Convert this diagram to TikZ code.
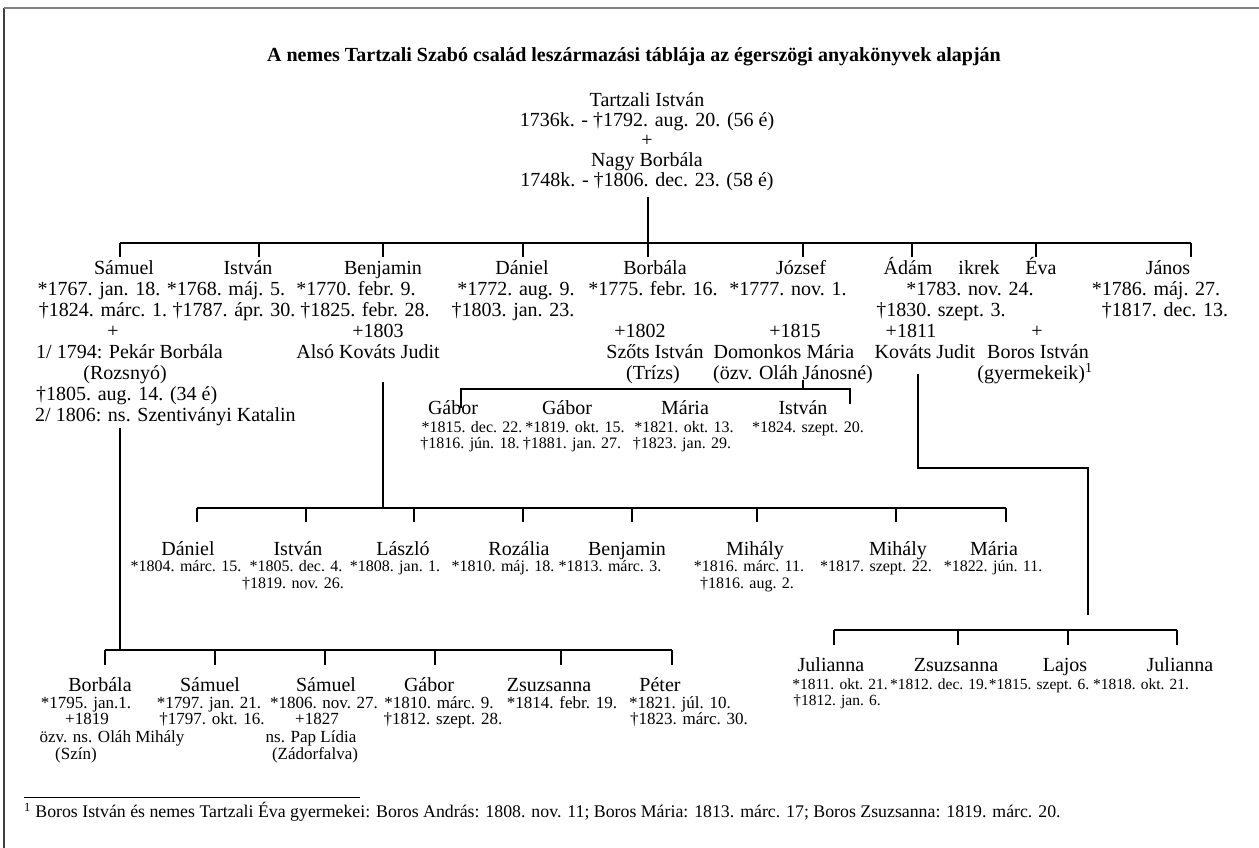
\documentclass[tikz,border=0pt]{standalone}
\usepackage{fontspec}
\setmainfont{Liberation Serif}
\begin{document}
\begin{tikzpicture}[x=1pt,y=-1pt,
  big/.style={font=\fontsize{20}{24}\selectfont, inner sep=0pt, anchor=base},
  bigw/.style={big, anchor=base west},
  sml/.style={font=\fontsize{16}{19}\selectfont, inner sep=0pt, anchor=base},
  smlb/.style={font=\fontsize{17}{20}\selectfont, inner sep=0pt, anchor=base},
  smlc/.style={font=\fontsize{15.5}{18}\selectfont, inner sep=0pt, anchor=base},
  ttl/.style={font=\fontsize{20}{24}\selectfont\bfseries, inner sep=0pt, anchor=base},
  fn/.style={font=\fontsize{17.8}{20}\selectfont, inner sep=0pt, anchor=base west},
  ln/.style={line width=1.1pt, draw=black},
]
\useasboundingbox (0,0) rectangle (1259,848);
% frame
\coordinate (fA) at (4,848);
\coordinate (fB) at (4,8);
\coordinate (fC) at (1259,8);
\draw[line width=1.6pt, draw=black!75] (fA) -- (fB);
\draw[line width=1.8pt, draw=black!50] (fB) -- (fC);

% title
\node[ttl] (title) at (634,61.6) {A nemes Tartzali Szabó család leszármazási táblája az égerszögi anyakönyvek alapján};

% root couple
\node[big] (root1) at (647,106.6) {Tartzali István};
\node[big] (root2) at (647,126.6) {1736k. - †1792. aug. 20. (56 é)};
\node[big] (root3) at (647,146.6) {+};
\node[big] (root4) at (647,166.6) {Nagy Borbála};
\node[big] (root5) at (647,186.6) {1748k. - †1806. dec. 23. (58 é)};

% generation 1
\def\Ra{274.6}\def\Rb{295.6}\def\Rc{316.6}\def\Rd{337.6}
\def\Re{358.6}\def\Rf{379.6}\def\Rg{400.6}\def\Rh{421.6}
\node[big] (sam1) at (124,\Ra) {Sámuel};
\node[big] (sam2) at (99,\Rb) {*1767. jan. 18.};
\node[big] (sam3) at (103,\Rc) {†1824. márc. 1.};
\node[big] (sam4) at (113,\Rd) {+};
\node[bigw] (sam5) at (36,\Re) {1/ 1794: Pekár Borbála};
\node[big] (sam6) at (125,\Rf) {(Rozsnyó)};
\node[bigw] (sam7) at (36,\Rg) {†1805. aug. 14. (34 é)};
\node[bigw] (sam8) at (35,\Rh) {2/ 1806: ns. Szentiványi Katalin};

\node[big] (ist1) at (248,\Ra) {István};
\node[big] (ist2) at (226,\Rb) {*1768. máj. 5.};
\node[big] (ist3) at (234,\Rc) {†1787. ápr. 30.};

\node[big] (ben1) at (383,\Ra) {Benjamin};
\node[big] (ben2) at (356,\Rb) {*1770. febr. 9.};
\node[big] (ben3) at (365,\Rc) {†1825. febr. 28.};
\node[big] (ben4) at (378,\Rd) {+1803};
\node[big] (ben5) at (368,\Re) {Alsó Kováts Judit};

\node[big] (dan1) at (522,\Ra) {Dániel};
\node[big] (dan2) at (516,\Rb) {*1772. aug. 9.};
\node[big] (dan3) at (513,\Rc) {†1803. jan. 23.};

\node[big] (bor1) at (655,\Ra) {Borbála};
\node[big] (bor2) at (653,\Rb) {*1775. febr. 16.};
\node[big] (bor4) at (640,\Rd) {+1802};
\node[big] (bor5) at (655,\Re) {Szőts István};
\node[big] (bor6) at (653,\Rf) {(Trízs)};

\node[big] (jo1) at (801,\Ra) {József};
\node[big] (jo2) at (788,\Rb) {*1777. nov. 1.};
\node[big] (jo4) at (795,\Rd) {+1815};
\node[big] (jo5) at (784,\Re) {Domonkos Mária};
\node[big] (jo6) at (793,\Rf) {(özv. Oláh Jánosné)};

\node[big] (ad1) at (908,\Ra) {Ádám};
\node[big] (ikr) at (979,\Ra) {ikrek};
\node[big] (eva1) at (1041,\Ra) {Éva};
\node[big] (ad2) at (970,\Rb) {*1783. nov. 24.};
\node[big] (ad3) at (941,\Rc) {†1830. szept. 3.};
\node[big] (ad4) at (911,\Rd) {+1811};
\node[big] (eva4) at (1037,\Rd) {+};
\node[big] (ad5) at (925,\Re) {Kováts Judit};
\node[big] (eva5) at (1038,\Re) {Boros István};
\node[big] (eva6) at (1035,\Rf) {(gyermekeik)\textsuperscript{1}};

\node[big] (ja1) at (1168,\Ra) {János};
\node[big] (ja2) at (1156,\Rb) {*1786. máj. 27.};
\node[big] (ja3) at (1165,\Rc) {†1817. dec. 13.};

% generation 1 connectors
\coordinate (rtop) at (648,197);
\foreach \n/\x in {1/120,2/259,3/383,4/523,5/648,6/803,7/912,8/1036,9/1191}{
  \coordinate (ga\n) at (\x,243);
  \coordinate (gb\n) at (\x,256.5);
}
\draw[ln] (rtop) -- (ga5);
\draw[ln] (ga1) -- (ga9);
\foreach \n in {1,...,9}{\draw[ln] (ga\n) -- (gb\n);}

% József's children
\coordinate (jcA) at (803,380);
\coordinate (jcB) at (803,389);
\coordinate (jcL) at (461,389);
\coordinate (jcR) at (850,389);
\coordinate (jcLd) at (461,408);
\coordinate (jcRd) at (850,404);
\draw[ln] (jcA) -- (jcB);
\draw[ln] (jcLd) -- (jcL) -- (jcR) -- (jcRd);
\node[big] (jc1) at (453,414.6) {Gábor};
\node[big] (jc2) at (567,414.6) {Gábor};
\node[big] (jc3) at (685,414.6) {Mária};
\node[big] (jc4) at (803,414.6) {István};
\node[sml] (jd1) at (472,432.3) {*1815. dec. 22.};
\node[sml] (jd2) at (575,432.3) {*1819. okt. 15.};
\node[sml] (jd3) at (684,432.3) {*1821. okt. 13.};
\node[sml] (jd4) at (808,432.3) {*1824. szept. 20.};
\node[sml] (je1) at (470,448.3) {†1816. jún. 18.};
\node[sml] (je2) at (572,448.3) {†1881. jan. 27.};
\node[sml] (je3) at (682,448.3) {†1823. jan. 29.};

% Benjamin's children
\coordinate (bcA) at (383,382);
\coordinate (bcB) at (383,508);
\draw[ln] (bcA) -- (bcB);
\foreach \n/\x in {1/197,2/306,3/414,4/523,5/632,6/757,7/896,8/1006}{
  \coordinate (ba\n) at (\x,508);
  \coordinate (bb\n) at (\x,522);
}
\draw[ln] (ba1) -- (ba8);
\foreach \n in {1,...,8}{\draw[ln] (ba\n) -- (bb\n);}
\node[big] (bc1) at (188,555.6) {Dániel};
\node[big] (bc2) at (298,555.6) {István};
\node[big] (bc3) at (403,555.6) {László};
\node[big] (bc4) at (519,555.6) {Rozália};
\node[big] (bc5) at (627,555.6) {Benjamin};
\node[big] (bc6) at (755,555.6) {Mihály};
\node[big] (bc7) at (898,555.6) {Mihály};
\node[big] (bc8) at (994,555.6) {Mária};
\node[sml] (bd1) at (186,571.3) {*1804. márc. 15.};
\node[sml] (bd2) at (296,571.3) {*1805. dec. 4.};
\node[sml] (bd3) at (395,571.3) {*1808. jan. 1.};
\node[sml] (bd4) at (503,571.3) {*1810. máj. 18.};
\node[sml] (bd5) at (610,571.3) {*1813. márc. 3.};
\node[sml] (bd6) at (749,571.3) {*1816. márc. 11.};
\node[sml] (bd7) at (876,571.3) {*1817. szept. 22.};
\node[sml] (bd8) at (993,571.3) {*1822. jún. 11.};
\node[sml] (be2) at (293,588.3) {†1819. nov. 26.};
\node[sml] (be6) at (747,588.3) {†1816. aug. 2.};

% Ádám's children
\coordinate (acA) at (918,374);
\coordinate (acB) at (918,468);
\coordinate (acC) at (1088,468);
\coordinate (acD) at (1088,615);
\draw[ln] (acA) -- (acB) -- (acC) -- (acD);
\foreach \n/\x in {1/834,2/958,3/1068,4/1177}{
  \coordinate (aa\n) at (\x,630);
  \coordinate (ab\n) at (\x,645);
}
\draw[ln] (aa1) -- (aa4);
\foreach \n in {1,...,4}{\draw[ln] (aa\n) -- (ab\n);}
\node[big] (ac1) at (831,671.6) {Julianna};
\node[big] (ac2) at (956,671.6) {Zsuzsanna};
\node[big] (ac3) at (1065,671.6) {Lajos};
\node[big] (ac4) at (1180,671.6) {Julianna};
\node[smlc] (ak1) at (840,689.3) {*1811. okt. 21.};
\node[smlc] (ak2) at (939,689.3) {*1812. dec. 19.};
\node[smlc] (ak3) at (1039,689.3) {*1815. szept. 6.};
\node[smlc] (ak4) at (1141,689.3) {*1818. okt. 21.};
\node[smlc] (al1) at (837,705.3) {†1812. jan. 6.};

% Sámuel's children
\coordinate (scA) at (120,428);
\coordinate (scB) at (120,650);
\draw[ln] (scA) -- (scB);
\foreach \n/\x in {1/105,2/215,3/325,4/435,5/561,6/672}{
  \coordinate (sa\n) at (\x,650);
  \coordinate (sb\n) at (\x,665);
}
\draw[ln] (sa1) -- (sa6);
\foreach \n in {1,...,6}{\draw[ln] (sa\n) -- (sb\n);}
\node[big] (sc1) at (100,691.6) {Borbála};
\node[big] (sc2) at (210,691.6) {Sámuel};
\node[big] (sc3) at (326,691.6) {Sámuel};
\node[big] (sc4) at (429,691.6) {Gábor};
\node[big] (sc5) at (549,691.6) {Zsuzsanna};
\node[big] (sc6) at (660,691.6) {Péter};
\node[smlb] (sd1) at (86,708.6) {*1795. jan.1.};
\node[smlb] (sd2) at (209,708.6) {*1797. jan. 21.};
\node[smlb] (sd3) at (324,708.6) {*1806. nov. 27.};
\node[smlb] (sd4) at (439,708.6) {*1810. márc. 9.};
\node[smlb] (sd5) at (562,708.6) {*1814. febr. 19.};
\node[smlb] (sd6) at (680,708.6) {*1821. júl. 10.};
\node[smlb] (se1) at (87,724.6) {+1819};
\node[smlb] (se2) at (212,724.6) {†1797. okt. 16.};
\node[smlb] (se3) at (317,724.6) {+1827};
\node[smlb] (se4) at (443,724.6) {†1812. szept. 28.};
\node[smlb] (se6) at (689,724.6) {†1823. márc. 30.};
\node[smlb] (sf1) at (112,742.6) {özv. ns. Oláh Mihály};
\node[smlb] (sf3) at (311,742.6) {ns. Pap Lídia};
\node[smlb] (sg1) at (76,759.6) {(Szín)};
\node[smlb] (sg3) at (315,759.6) {(Zádorfalva)};

% footnote
\coordinate (fnA) at (24,797);
\coordinate (fnB) at (360,797);
\draw[line width=0.9pt] (fnA) -- (fnB);
\node[fn] (fnote) at (24,817.6) {\textsuperscript{1} Boros István és nemes Tartzali Éva gyermekei: Boros András: 1808. nov. 11; Boros Mária: 1813. márc. 17; Boros Zsuzsanna: 1819. márc. 20.};
\end{tikzpicture}
\end{document}
